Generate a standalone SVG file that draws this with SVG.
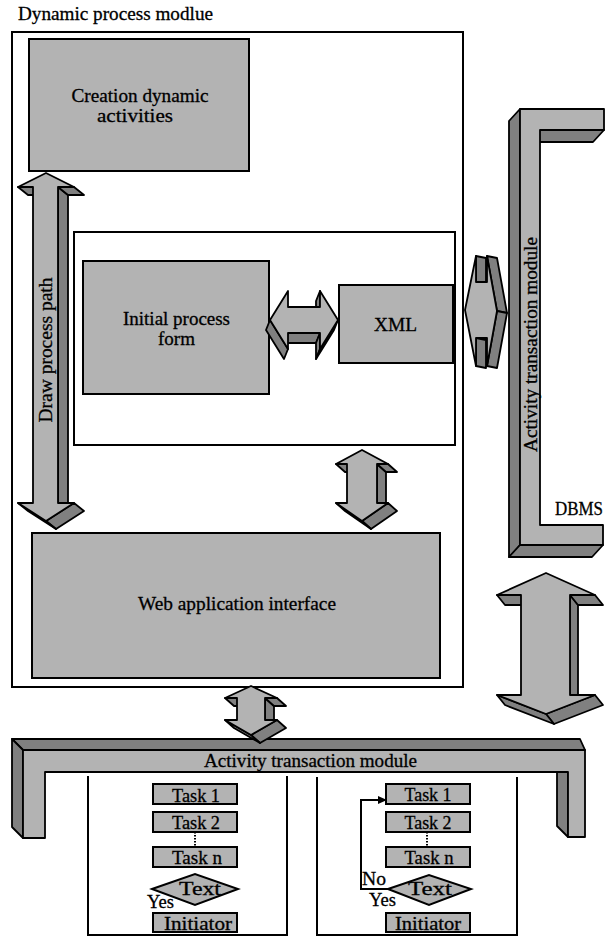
<svg xmlns="http://www.w3.org/2000/svg" width="608" height="938" viewBox="0 0 608 938" font-family="'Liberation Serif','DejaVu Serif','Times New Roman',serif">
<defs>
<style>
.frame{fill:none;stroke:#000;stroke-width:2}
.box{fill:#b3b3b3;stroke:#000;stroke-width:2}
.lt{fill:#b3b3b3;stroke:#000;stroke-width:1.8;stroke-linejoin:round}
.dk{fill:#808080;stroke:#000;stroke-width:1.8;stroke-linejoin:round}
.line{fill:none;stroke:#000;stroke-width:2}
.t{font-family:'Liberation Serif','DejaVu Serif','Times New Roman',serif;font-size:19px;fill:#000;stroke:#000;stroke-width:0.3}
.m{text-anchor:middle}
</style>
<marker id="ah" markerWidth="9" markerHeight="8" refX="8" refY="4" orient="auto" markerUnits="userSpaceOnUse"><path d="M0,0 L9,4 L0,8 z" fill="#000"/></marker>
</defs>
<rect width="608" height="938" fill="#fff"/>

<g id="dynamic-process-module">
<text class="t" x="18" y="20" textLength="195" lengthAdjust="spacingAndGlyphs">Dynamic process modlue</text>
<rect class="frame" x="12" y="32" width="451" height="655"/>
</g>

<g id="creation-dynamic-activities">
<rect class="box" x="29" y="39" width="220" height="132"/>
<text class="t m" x="140" y="102" textLength="137" lengthAdjust="spacingAndGlyphs">Creation dynamic</text>
<text class="t m" x="135" y="122" textLength="76" lengthAdjust="spacingAndGlyphs">activities</text>
</g>

<g id="inner-frame">
<rect class="frame" x="74" y="232" width="381" height="213"/>
</g>

<g id="initial-process-form">
<rect class="box" x="83" y="261" width="186" height="133"/>
<text class="t m" x="176.5" y="325" textLength="107" lengthAdjust="spacingAndGlyphs">Initial process</text>
<text class="t m" x="176.5" y="345" textLength="37" lengthAdjust="spacingAndGlyphs">form</text>
</g>

<g id="xml">
<rect class="box" x="339" y="285" width="114" height="78"/>
<text class="t m" x="395.5" y="331" textLength="43" lengthAdjust="spacingAndGlyphs">XML</text>
</g>

<g id="web-application-interface">
<rect class="box" x="32" y="533" width="408" height="145"/>
<text class="t m" x="237" y="610" textLength="198" lengthAdjust="spacingAndGlyphs">Web application interface</text>
</g>

<g id="activity-transaction-module-right">
<polygon class="dk" points="520,109 520,545 509,557 509,121"/>
<polygon class="dk" points="520,545 603,545 592,557 509,557"/>
<polygon class="dk" points="540,130 604,130 593,142 529,142"/>
<polygon class="lt" points="520,109 604,109 604,130 540,130 540,525 603,525 603,545 520,545"/>
<text class="t m" transform="translate(537,344.5) rotate(-90)" textLength="215" lengthAdjust="spacingAndGlyphs">Activity transaction module</text>
<text class="t" x="555" y="515" textLength="48" lengthAdjust="spacingAndGlyphs">DBMS</text>
</g>

<g id="activity-transaction-module-bottom">
<polygon class="dk" points="12,739 580,739 585,750 23,750"/>
<polygon class="dk" points="12,739 23,750 23,838 12,827"/>
<polygon class="dk" points="557,772 568,772 568,837 557,826"/>
<polygon class="lt" points="23,750 585,750 585,837 568,837 568,772 45,772 45,838 23,838"/>
<text class="t m" x="310.5" y="767" textLength="213" lengthAdjust="spacingAndGlyphs">Activity transaction module</text>
</g>

<g id="workflow-left">
<path class="line" d="M88,776 V935 H287 V776"/>
<rect class="box" x="153" y="784" width="84" height="20"/>
<text class="t m" x="196" y="802" textLength="48" lengthAdjust="spacingAndGlyphs">Task 1</text>
<rect class="box" x="153" y="812" width="84" height="20"/>
<text class="t m" x="196" y="829" textLength="48" lengthAdjust="spacingAndGlyphs">Task 2</text>
<line x1="195" y1="832" x2="195" y2="847" stroke="#000" stroke-width="2" stroke-dasharray="1.5 1.5"/>
<rect class="box" x="153" y="847" width="84" height="20"/>
<text class="t m" x="197" y="864" textLength="50" lengthAdjust="spacingAndGlyphs">Task n</text>
<polygon class="box" points="152,889 195,874 238,889 195,905"/>
<text class="t m" x="200" y="895" textLength="42" lengthAdjust="spacingAndGlyphs">Text</text>
<text class="t" x="147" y="908" textLength="27" lengthAdjust="spacingAndGlyphs">Yes</text>
<rect class="box" x="153" y="913" width="84" height="19"/>
<text class="t m" x="198" y="930" textLength="68" lengthAdjust="spacingAndGlyphs">Initiator</text>
</g>

<g id="workflow-right">
<path class="line" d="M317,777 V935 H517 V777"/>
<rect class="box" x="386" y="784" width="84" height="20"/>
<text class="t m" x="428" y="801" textLength="47" lengthAdjust="spacingAndGlyphs">Task 1</text>
<rect class="box" x="386" y="812" width="84" height="20"/>
<text class="t m" x="428" y="829" textLength="47" lengthAdjust="spacingAndGlyphs">Task 2</text>
<line x1="427" y1="832" x2="427" y2="847" stroke="#000" stroke-width="2" stroke-dasharray="1.5 1.5"/>
<rect class="box" x="386" y="847" width="84" height="20"/>
<text class="t m" x="429" y="864" textLength="49" lengthAdjust="spacingAndGlyphs">Task n</text>
<polygon class="box" points="388,889 429,875 471,889 429,905"/>
<text class="t m" x="430" y="895" textLength="44" lengthAdjust="spacingAndGlyphs">Text</text>
<text class="t" x="362" y="885" textLength="24" lengthAdjust="spacingAndGlyphs">No</text>
<text class="t" x="369" y="906" textLength="27" lengthAdjust="spacingAndGlyphs">Yes</text>
<rect class="box" x="386" y="913" width="84" height="19"/>
<text class="t m" x="428" y="930" textLength="66" lengthAdjust="spacingAndGlyphs">Initiator</text>
</g>

<g id="connectors">
<g id="arrow-draw-process-path">
<polygon class="dk" points="58,187 58,503 68,511 68,195"/>
<polygon class="dk" points="74,187 58,187 68,195 84,195"/>
<polygon class="dk" points="33,187 18,187 28,195 43,195"/>
<polygon class="dk" points="74,503 46,521 56,529 84,511"/>
<polygon class="dk" points="46,521 18,503 28,511 56,529"/>
<polygon class="lt" points="46,173 74,187 58,187 58,503 74,503 46,521 18,503 33,503 33,187 18,187"/>
<text class="t m" transform="translate(52,350) rotate(-90)" textLength="145" lengthAdjust="spacingAndGlyphs">Draw process path</text>
</g>
<g id="arrow-form-xml">
<polygon class="dk" points="320,333 288,333 284,343 316,343"/>
<polygon class="dk" points="320,349 320,333 316,343 316,359"/>
<polygon class="dk" points="338,320 320,349 316,359 334,330"/>
<polygon class="dk" points="288,349 270,320 266,330 284,359"/>
<polygon class="dk" points="320,307 320,291 316,301 316,317"/>
<polygon class="lt" points="270,320 288,291 288,307 320,307 320,291 338,320 320,349 320,333 288,333 288,349"/>
</g>
<g id="arrow-module-right">
<polygon class="dk" points="476,256 476,282 486,284 486,258"/>
<polygon class="dk" points="487,338 476,338 486,340 497,340"/>
<polygon class="dk" points="476,338 476,366 486,368 486,340"/>
<polygon class="dk" points="487,256 497,311 507,313 497,258"/>
<polygon class="dk" points="497,311 487,366 497,368 507,313"/>
<polygon class="lt" points="465,310 476,256 476,282 487,282 487,256 497,311 487,366 487,338 476,338 476,366"/>
</g>
<g id="arrow-inner-web">
<polygon class="dk" points="377,464 377,503 386,511 386,472"/>
<polygon class="dk" points="388,464 377,464 386,472 397,472"/>
<polygon class="dk" points="347,464 336,464 345,472 356,472"/>
<polygon class="dk" points="388,503 362,521 371,529 397,511"/>
<polygon class="dk" points="362,521 336,503 345,511 371,529"/>
<polygon class="lt" points="362,450 388,464 377,464 377,503 388,503 362,521 336,503 347,503 347,464 336,464"/>
</g>
<g id="arrow-web-bottom">
<polygon class="dk" points="265,698 265,720 274,728 274,706"/>
<polygon class="dk" points="277,698 265,698 274,706 286,706"/>
<polygon class="dk" points="237,698 225,698 234,706 246,706"/>
<polygon class="dk" points="277,720 251,735 260,743 286,728"/>
<polygon class="dk" points="251,735 225,720 234,728 260,743"/>
<polygon class="lt" points="251,686 277,698 265,698 265,720 277,720 251,735 225,720 237,720 237,698 225,698"/>
</g>
<g id="arrow-right-bottom">
<polygon class="dk" points="570,595 570,695 578,705 578,605"/>
<polygon class="dk" points="595,595 570,595 578,605 603,605"/>
<polygon class="dk" points="521,595 497,595 505,605 529,605"/>
<polygon class="dk" points="595,695 546,714 554,724 603,705"/>
<polygon class="dk" points="546,714 497,695 505,705 554,724"/>
<polygon class="lt" points="546,573 595,595 570,595 570,695 595,695 546,714 497,695 521,695 521,595 497,595"/>
</g>
<path class="line" d="M388,889 H361 V800 H386" marker-end="url(#ah)"/>
</g>
</svg>
